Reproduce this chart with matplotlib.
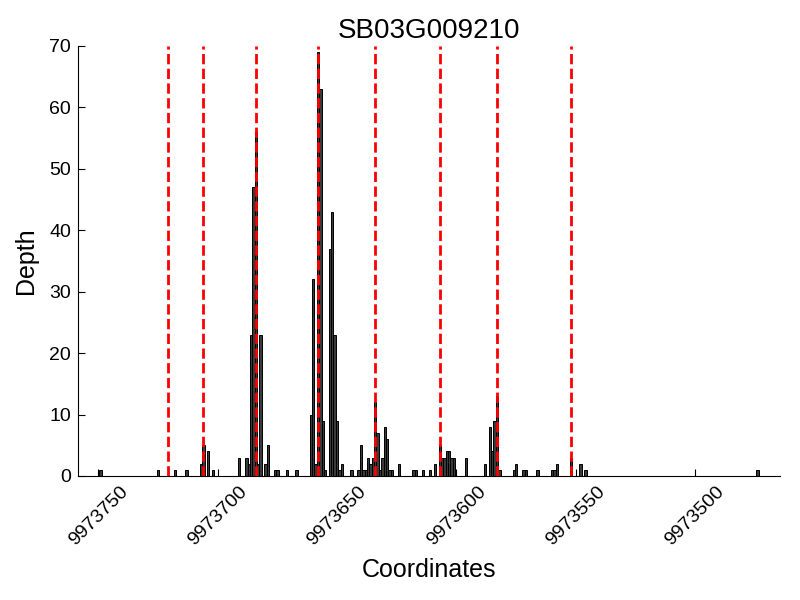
import matplotlib
matplotlib.use("Agg")
import matplotlib.pyplot as plt

title = "SB03G009210"

positions = [9973749, 9973725, 9973718, 9973713, 9973707, 9973706, 9973704, 9973702,
             9973691, 9973688, 9973687, 9973686, 9973685, 9973684, 9973683, 9973682,
             9973680, 9973679, 9973676, 9973675, 9973671, 9973667,
             9973661, 9973660, 9973659, 9973658, 9973657, 9973656, 9973655, 9973653,
             9973652, 9973651, 9973650, 9973649, 9973648,
             9973644, 9973641, 9973640, 9973639, 9973638, 9973637, 9973636, 9973635,
             9973634, 9973633, 9973632, 9973631, 9973630, 9973629, 9973628, 9973627,
             9973624,
             9973618, 9973617, 9973614, 9973611, 9973609, 9973607, 9973606, 9973605,
             9973604, 9973603, 9973602, 9973601, 9973596,
             9973588, 9973586, 9973585, 9973584, 9973583, 9973582, 9973576, 9973575,
             9973572, 9973571, 9973566, 9973560, 9973559, 9973558, 9973552, 9973548,
             9973546, 9973474]
depths = [1, 1, 1, 1, 2, 5, 4, 1,
          3, 3, 2, 23, 47, 56, 2, 23, 2, 5, 1, 1, 1, 1,
          10, 32, 2, 69, 63, 9, 1, 37, 43, 23, 9, 1, 2,
          1, 1, 5, 1, 1, 3, 2, 3, 12, 7, 1, 3, 8, 6, 1, 1, 2,
          1, 1, 1, 1, 2, 5, 3, 3, 4, 4, 3, 3, 3,
          2, 8, 4, 9, 13, 1, 1, 2, 1, 1, 1, 1, 1, 2, 3, 2, 1, 1]

boundaries = [9973721, 9973706, 9973684, 9973658, 9973634, 9973607, 9973583, 9973552]

xticks = [9973750, 9973700, 9973650, 9973600, 9973550, 9973500]
yticks = [0, 10, 20, 30, 40, 50, 60, 70]

plt.rcParams['font.family'] = ['Liberation Sans', 'DejaVu Sans']

fig = plt.figure(figsize=(8, 6), dpi=100)
ax = fig.add_axes([0.0975, 0.2067, 0.8775, 0.7167])

ax.bar(positions, depths, width=1.0, align='center',
       facecolor='#3a3a3a', edgecolor='black', linewidth=0.7, zorder=2)
for b in boundaries:
    ax.axvline(b, color='red', linestyle='--', linewidth=2, zorder=3)

ax.set_xlim(9973758.5, 9973464.5)
ax.set_ylim(0, 70)
ax.set_xticks(xticks)
ax.set_xticklabels([str(t) for t in xticks], rotation=45, fontsize=14)
ax.set_yticks(yticks)
ax.set_yticklabels([str(t) for t in yticks], fontsize=14)

ax.spines['top'].set_visible(False)
ax.spines['right'].set_visible(False)
ax.tick_params(direction='in', length=5, top=False, right=False, pad=5)

ax.set_title(title, fontsize=20)
ax.set_xlabel("Coordinates", fontsize=18, labelpad=7)
ax.set_ylabel("Depth", fontsize=18, labelpad=8)

fig.savefig("out.png", dpi=100)
